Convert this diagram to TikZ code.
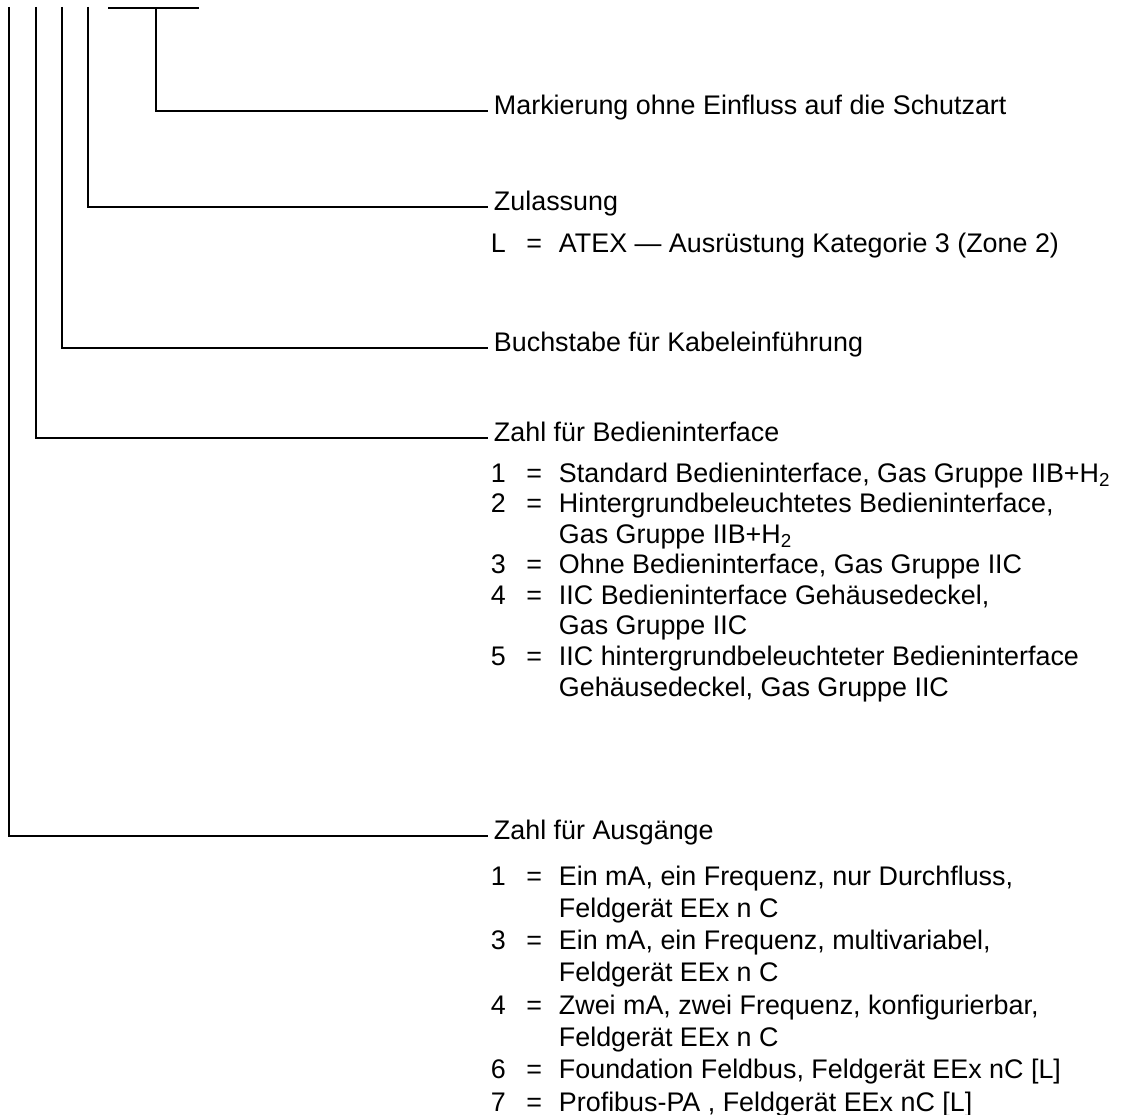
\documentclass[tikz,border=0pt]{standalone}
\usepackage{fontspec}
\setmainfont{Liberation Sans}

\tikzset{
  kopf/.style={anchor=west,inner xsep=0.1cm,inner ysep=0pt,
    text height=0.6em,text depth=0.23em},
  liste/.style={anchor=base west,inner sep=0pt}
}

\begin{document}
\begin{tikzpicture}[x=0.02cm,y=-0.02cm,line width=1.1pt,
    font=\fontsize{15.3}{18}\selectfont]
  \useasboundingbox (0,0) rectangle (1139,1115);

  % obere Enden der Linien
  \coordinate (t1) at (9,7);
  \coordinate (t2) at (36,7);
  \coordinate (t3) at (62,7);
  \coordinate (t4) at (88,7);
  \coordinate (t5l) at (108,8);
  \coordinate (t5r) at (199,8);
  \coordinate (t5) at (156,8);

  % Texte
  \node[kopf] (markierung) at (488,111) {Markierung ohne Einfluss auf die Schutzart};
  \node[kopf] (zulassung) at (488,207) {Zulassung};
  \node[liste] (atex) at (490,252) {%
    \begin{tabular}[t]{@{}p{0.71cm}@{}p{0.65cm}@{}l@{}}
      L & = & ATEX — Ausrüstung Kategorie 3 (Zone 2)
    \end{tabular}};
  \node[kopf] (kabel) at (488,348) {Buchstabe für Kabeleinführung};
  \node[kopf] (bedien) at (488,438) {Zahl für Bedieninterface};
  \node[liste,font=\fontsize{15.3}{17.4}\selectfont] (bedienliste) at (490,482) {%
    \begin{tabular}[t]{@{}p{0.71cm}@{}p{0.65cm}@{}l@{}}
      1 & = & Standard Bedieninterface, Gas Gruppe IIB+H\textsubscript{2}\\
      2 & = & Hintergrundbeleuchtetes Bedieninterface,\\
        &   & Gas Gruppe IIB+H\textsubscript{2}\\
      3 & = & Ohne Bedieninterface, Gas Gruppe IIC\\
      4 & = & IIC Bedieninterface Gehäusedeckel,\\
        &   & Gas Gruppe IIC\\
      5 & = & IIC hintergrundbeleuchteter Bedieninterface\\
        &   & Gehäusedeckel, Gas Gruppe IIC
    \end{tabular}};
  \node[kopf] (ausgang) at (488,836) {Zahl für Ausgänge};
  \node[liste,font=\fontsize{15.3}{18.4}\selectfont] (ausgangliste) at (490,885) {%
    \begin{tabular}[t]{@{}p{0.71cm}@{}p{0.65cm}@{}l@{}}
      1 & = & Ein mA, ein Frequenz, nur Durchfluss,\\
        &   & Feldgerät EEx n C\\
      3 & = & Ein mA, ein Frequenz, multivariabel,\\
        &   & Feldgerät EEx n C\\
      4 & = & Zwei mA, zwei Frequenz, konfigurierbar,\\
        &   & Feldgerät EEx n C\\
      6 & = & Foundation Feldbus, Feldgerät EEx nC [L]\\
      7 & = & Profibus-PA , Feldgerät EEx nC [L]
    \end{tabular}};

  % Linien
  \draw (t1) |- (ausgang.west);
  \draw (t2) |- (bedien.west);
  \draw (t3) |- (kabel.west);
  \draw (t4) |- (zulassung.west);
  \draw (t5l) -- (t5r);
  \draw (t5) |- (markierung.west);
\end{tikzpicture}
\end{document}
